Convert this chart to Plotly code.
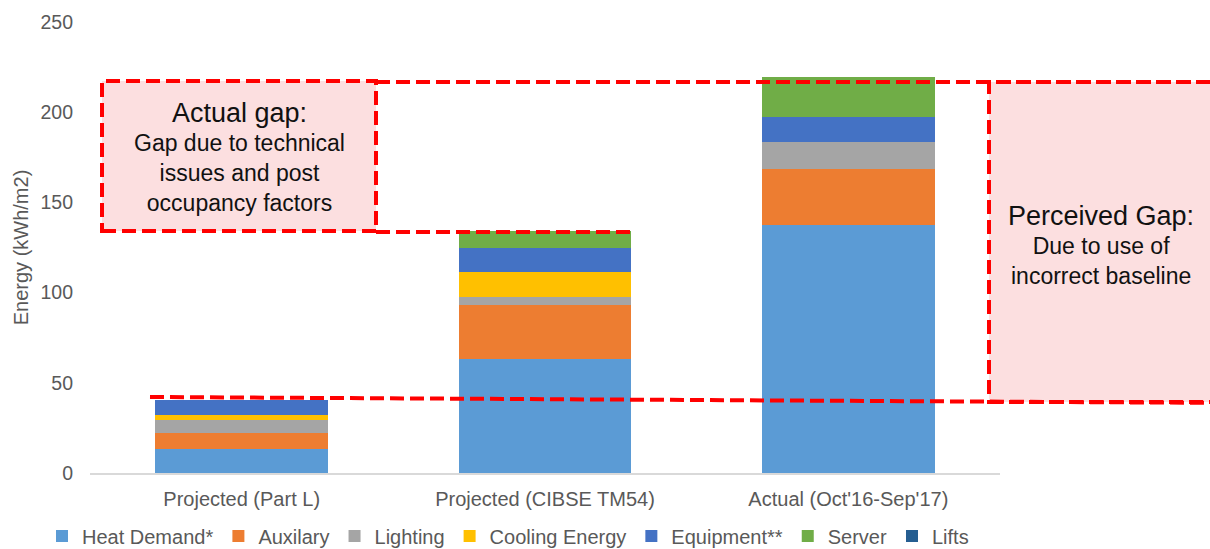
import plotly.graph_objects as go

categories = ["Projected (Part L)", "Projected (CIBSE TM54)", "Actual (Oct'16-Sep'17)"]
series_names = ["Heat Demand*", "Auxilary", "Lighting", "Cooling Energy", "Equipment**", "Server", "Lifts"]
heat_demand = [13.3, 63.2, 137.2]
auxilary = [8.8, 30.1, 31.3]
lighting = [7.3, 4.3, 15.0]
cooling_energy = [2.8, 13.9, 0.0]
equipment = [8.0, 13.1, 13.9]
server = [0.0, 9.3, 21.9]
lifts = [0.0, 0.0, 0.0]
colors = ["#5B9BD5", "#ED7D31", "#A5A5A5", "#FFC000", "#4472C4", "#70AD47", "#255E91"]
y_ticks = [0, 50, 100, 150, 200, 250]

series_values = [heat_demand, auxilary, lighting, cooling_energy, equipment, server, lifts]

FONT = "Liberation Sans, Arial, sans-serif"
W, H = 1210, 549
ML, MR, MT, MB = 90, 210, 22, 76
PW, PH = W - ML - MR, H - MT - MB


def xp(px):
    return (px - ML) / PW


def yp(py):
    return (H - MB - py) / PH


fig = go.Figure()
for name, vals, col in zip(series_names, series_values, colors):
    fig.add_trace(go.Bar(x=categories, y=vals, name=name, marker=dict(color=col, line=dict(width=0)),
                         width=0.57))

RED = "#FF0000"
PINK = "#FCDFE0"
dash = dict(color=RED, width=4, dash="14px,6px")

shapes = [
    # actual gap box
    dict(type="rect", xref="paper", yref="paper", x0=xp(102), x1=xp(376), y0=yp(231), y1=yp(81),
         fillcolor=PINK, line=dash, layer="above"),
    # perceived gap box
    dict(type="rect", xref="paper", yref="paper", x0=xp(989), x1=xp(1240), y0=yp(402), y1=yp(82),
         fillcolor=PINK, line=dash, layer="above"),
    # top line
    dict(type="line", xref="paper", yref="paper", x0=xp(376), x1=xp(1240), y0=yp(82), y1=yp(82),
         line=dash, layer="above"),
    # middle line
    dict(type="line", xref="paper", yref="paper", x0=xp(376), x1=xp(636), y0=yp(232), y1=yp(232),
         line=dash, layer="above"),
    # bottom line
    dict(type="line", xref="paper", yref="paper", x0=xp(150), x1=xp(1240), y0=yp(397), y1=yp(403),
         line=dash, layer="above"),
]

annotations = [
    dict(xref="paper", yref="paper", x=xp(239), y=yp(113), text="Actual gap:", showarrow=False,
         font=dict(family=FONT, size=27, color="#111111"), xanchor="center", yanchor="middle"),
    dict(xref="paper", yref="paper", x=xp(239), y=yp(173),
         text="Gap due to technical<br>issues and post<br>occupancy factors", showarrow=False,
         font=dict(family=FONT, size=23, color="#111111"), xanchor="center", yanchor="middle"),
    dict(xref="paper", yref="paper", x=xp(1101), y=yp(216), text="Perceived Gap:", showarrow=False,
         font=dict(family=FONT, size=27, color="#111111"), xanchor="center", yanchor="middle"),
    dict(xref="paper", yref="paper", x=xp(1101), y=yp(261),
         text="Due to use of<br>incorrect baseline", showarrow=False,
         font=dict(family=FONT, size=23, color="#111111"), xanchor="center", yanchor="middle"),
]

fig.update_layout(
    width=W, height=H,
    margin=dict(l=ML, r=MR, t=MT, b=MB, autoexpand=False),
    barmode="stack",
    bargap=0.43,
    paper_bgcolor="white",
    plot_bgcolor="white",
    font=dict(family=FONT, color="#595959", size=19),
    shapes=shapes,
    annotations=annotations,
    showlegend=True,
    legend=dict(orientation="h", x=xp(42), xanchor="left", y=yp(536), yanchor="middle",
                font=dict(family=FONT, size=20, color="#595959"), traceorder="normal",
                bgcolor="rgba(0,0,0,0)"),
    xaxis=dict(type="category", range=[-0.5, 2.5], showline=True, linecolor="#D9D9D9", linewidth=1.5,
               showgrid=False, zeroline=False, ticks="", tickfont=dict(family=FONT, size=20, color="#595959"),
               ticklabelstandoff=7, automargin=False),
    yaxis=dict(range=[0, 250], tickvals=y_ticks, showgrid=False, zeroline=False, showline=False, ticks="",
               tickfont=dict(family=FONT, size=19.5, color="#595959"), ticklabelstandoff=16,
               title=dict(text="Energy (kWh/m2)", font=dict(family=FONT, size=20, color="#595959"), standoff=6),
               automargin=False),
)

fig.write_html("out.html")
